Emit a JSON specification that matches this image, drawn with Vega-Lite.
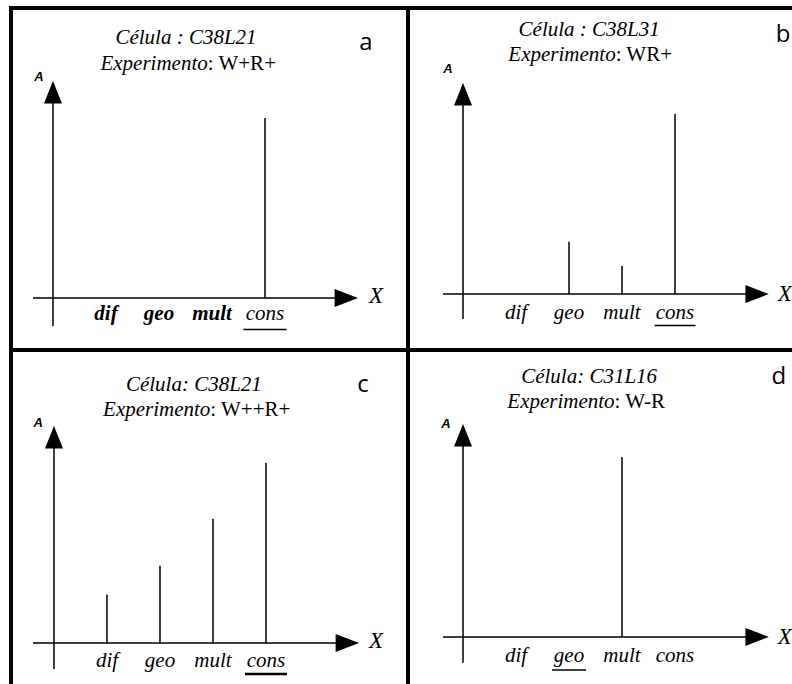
{
 "$schema": "https://vega.github.io/schema/vega-lite/v6.json",
 "background": "white",
 "padding": {"left": 8, "top": 5, "right": 0, "bottom": 0},
 "autosize": {"type": "pad"},
 "bounds": "flush",
 "spacing": 0,
 "columns": 2,
 "config": {"view": {"stroke": null}, "axis": {"disable": true}, "mark": {"color": "black"}, "point": {"opacity": 1}},
 "datasets": {"stems": [
  {"panel": "a", "cat": "dif", "pos": 1, "A": 0, "highlight": false},
  {"panel": "a", "cat": "geo", "pos": 2, "A": 0, "highlight": false},
  {"panel": "a", "cat": "mult", "pos": 3, "A": 0, "highlight": false},
  {"panel": "a", "cat": "cons", "pos": 4, "A": 1.0, "highlight": true},
  {"panel": "b", "cat": "dif", "pos": 1, "A": 0, "highlight": false},
  {"panel": "b", "cat": "geo", "pos": 2, "A": 0.29, "highlight": false},
  {"panel": "b", "cat": "mult", "pos": 3, "A": 0.155, "highlight": false},
  {"panel": "b", "cat": "cons", "pos": 4, "A": 1.0, "highlight": true},
  {"panel": "c", "cat": "dif", "pos": 1, "A": 0.27, "highlight": false},
  {"panel": "c", "cat": "geo", "pos": 2, "A": 0.43, "highlight": false},
  {"panel": "c", "cat": "mult", "pos": 3, "A": 0.69, "highlight": false},
  {"panel": "c", "cat": "cons", "pos": 4, "A": 1.0, "highlight": true},
  {"panel": "d", "cat": "dif", "pos": 1, "A": 0, "highlight": false},
  {"panel": "d", "cat": "geo", "pos": 2, "A": 0, "highlight": true},
  {"panel": "d", "cat": "mult", "pos": 3, "A": 1.0, "highlight": false},
  {"panel": "d", "cat": "cons", "pos": 4, "A": 0, "highlight": false}
 ]},
 "concat": [
  {
   "width": 397, "height": 342,
   "layer": [
    {"data": {"values": [{}]}, "mark": {"type": "rule", "strokeWidth": 4, "strokeCap": "square"}, "encoding": {"x": {"datum": -0.792, "scale": {"domain": [-0.792, 6.698], "nice": false, "zero": false}}}},
    {"data": {"values": [{}]}, "mark": {"type": "rule", "strokeWidth": 4}, "encoding": {"y": {"datum": 1.611, "scale": {"domain": [-0.289, 1.611], "nice": false, "zero": false}}}},
    {"data": {"values": [{}]}, "mark": {"type": "rule", "strokeWidth": 1.5}, "encoding": {"x": {"datum": -0.377, "scale": {"domain": [-0.792, 6.698], "nice": false, "zero": false}}, "x2": {"datum": 5.6}, "y": {"datum": 0, "scale": {"domain": [-0.289, 1.611], "nice": false, "zero": false}}}},
    {"data": {"values": [{}]}, "mark": {"type": "rule", "strokeWidth": 1.5}, "encoding": {"x": {"datum": 0, "scale": {"domain": [-0.792, 6.698], "nice": false, "zero": false}}, "y": {"datum": -0.156, "scale": {"domain": [-0.289, 1.611], "nice": false, "zero": false}}, "y2": {"datum": 1.15}}},
    {"data": {"values": [{}]}, "mark": {"type": "point", "shape": "M0,0L-2.6,-1L-2.6,1Z", "size": 324, "filled": true, "strokeWidth": 0}, "encoding": {"x": {"datum": 5.755, "scale": {"domain": [-0.792, 6.698], "nice": false, "zero": false}}, "y": {"datum": 0, "scale": {"domain": [-0.289, 1.611], "nice": false, "zero": false}}}},
    {"data": {"values": [{}]}, "mark": {"type": "point", "shape": "M0,0L1,2.5L-1,2.5Z", "size": 324, "filled": true, "strokeWidth": 0}, "encoding": {"x": {"datum": 0, "scale": {"domain": [-0.792, 6.698], "nice": false, "zero": false}}, "y": {"datum": 1.206, "scale": {"domain": [-0.289, 1.611], "nice": false, "zero": false}}}},
    {"data": {"values": [{}]}, "mark": {"type": "text", "text": "A", "font": "Liberation Sans", "fontStyle": "italic", "fontWeight": "bold", "fontSize": 13}, "encoding": {"x": {"datum": -0.264, "scale": {"domain": [-0.792, 6.698], "nice": false, "zero": false}}, "y": {"datum": 1.228, "scale": {"domain": [-0.289, 1.611], "nice": false, "zero": false}}}},
    {"data": {"values": [{}]}, "mark": {"type": "text", "text": "X", "font": "Liberation Serif", "fontStyle": "italic", "fontSize": 23}, "encoding": {"x": {"datum": 6.094, "scale": {"domain": [-0.792, 6.698], "nice": false, "zero": false}}, "y": {"datum": 0.011, "scale": {"domain": [-0.289, 1.611], "nice": false, "zero": false}}}},
    {"data": {"name": "stems"}, "transform": [{"filter": "datum.panel === 'a' && datum.A > 0"}], "mark": {"type": "rule", "strokeWidth": 1.5}, "encoding": {"x": {"field": "pos", "type": "quantitative", "scale": {"domain": [-0.792, 6.698], "nice": false, "zero": false}}, "y": {"field": "A", "type": "quantitative", "scale": {"domain": [-0.289, 1.611], "nice": false, "zero": false}}, "y2": {"datum": 0}}},
    {"data": {"name": "stems"}, "transform": [{"filter": "datum.panel === 'a' && !datum.highlight"}], "mark": {"type": "text", "font": "Liberation Serif", "fontStyle": "italic", "fontWeight": "bold", "fontSize": 21}, "encoding": {"x": {"field": "pos", "type": "quantitative", "scale": {"domain": [-0.792, 6.698], "nice": false, "zero": false}}, "y": {"datum": -0.089, "scale": {"domain": [-0.289, 1.611], "nice": false, "zero": false}}, "text": {"field": "cat"}}},
    {"data": {"name": "stems"}, "transform": [{"filter": "datum.panel === 'a' && datum.highlight"}], "mark": {"type": "text", "font": "Liberation Serif", "fontStyle": "italic", "fontSize": 21}, "encoding": {"x": {"field": "pos", "type": "quantitative", "scale": {"domain": [-0.792, 6.698], "nice": false, "zero": false}}, "y": {"datum": -0.089, "scale": {"domain": [-0.289, 1.611], "nice": false, "zero": false}}, "text": {"field": "cat"}}},
    {"data": {"name": "stems"}, "transform": [{"filter": "datum.panel === 'a' && datum.highlight"}], "mark": {"type": "point", "shape": "M-1,0L1,0", "size": 1849, "filled": false, "strokeWidth": 1.5}, "encoding": {"x": {"field": "pos", "type": "quantitative", "scale": {"domain": [-0.792, 6.698], "nice": false, "zero": false}}, "y": {"datum": -0.175, "scale": {"domain": [-0.289, 1.611], "nice": false, "zero": false}}}},
    {"data": {"values": [{}]}, "mark": {"type": "text", "text": "Célula : C38L21", "font": "Liberation Serif", "fontStyle": "italic", "fontSize": 21}, "encoding": {"x": {"datum": 2.51, "scale": {"domain": [-0.792, 6.698], "nice": false, "zero": false}}, "y": {"datum": 1.444, "scale": {"domain": [-0.289, 1.611], "nice": false, "zero": false}}}},
    {"data": {"values": [{}]}, "mark": {"type": "text", "text": "Experimento", "font": "Liberation Serif", "fontStyle": "italic", "fontSize": 21, "align": "right"}, "encoding": {"x": {"datum": 2.92, "scale": {"domain": [-0.792, 6.698], "nice": false, "zero": false}}, "y": {"datum": 1.3, "scale": {"domain": [-0.289, 1.611], "nice": false, "zero": false}}}},
    {"data": {"values": [{}]}, "mark": {"type": "text", "text": ": W+R+", "font": "Liberation Serif", "fontSize": 21, "align": "left"}, "encoding": {"x": {"datum": 2.92, "scale": {"domain": [-0.792, 6.698], "nice": false, "zero": false}}, "y": {"datum": 1.3, "scale": {"domain": [-0.289, 1.611], "nice": false, "zero": false}}}},
    {"data": {"values": [{}]}, "mark": {"type": "text", "text": "a", "font": "Open Sans", "fontSize": 24}, "encoding": {"x": {"datum": 5.906, "scale": {"domain": [-0.792, 6.698], "nice": false, "zero": false}}, "y": {"datum": 1.417, "scale": {"domain": [-0.289, 1.611], "nice": false, "zero": false}}}}
   ]
  },
  {
   "width": 385, "height": 342,
   "layer": [
    {"data": {"values": [{}]}, "mark": {"type": "rule", "strokeWidth": 4, "strokeCap": "square"}, "encoding": {"x": {"datum": -1.038, "scale": {"domain": [-1.038, 6.226], "nice": false, "zero": false}}}},
    {"data": {"values": [{}]}, "mark": {"type": "rule", "strokeWidth": 4}, "encoding": {"y": {"datum": 1.589, "scale": {"domain": [-0.311, 1.589], "nice": false, "zero": false}}}},
    {"data": {"values": [{}]}, "mark": {"type": "rule", "strokeWidth": 1.5}, "encoding": {"x": {"datum": -0.377, "scale": {"domain": [-1.038, 6.226], "nice": false, "zero": false}}, "x2": {"datum": 5.6}, "y": {"datum": 0, "scale": {"domain": [-0.311, 1.589], "nice": false, "zero": false}}}},
    {"data": {"values": [{}]}, "mark": {"type": "rule", "strokeWidth": 1.5}, "encoding": {"x": {"datum": 0, "scale": {"domain": [-1.038, 6.226], "nice": false, "zero": false}}, "y": {"datum": -0.139, "scale": {"domain": [-0.311, 1.589], "nice": false, "zero": false}}, "y2": {"datum": 1.1}}},
    {"data": {"values": [{}]}, "mark": {"type": "point", "shape": "M0,0L-2.6,-1L-2.6,1Z", "size": 324, "filled": true, "strokeWidth": 0}, "encoding": {"x": {"datum": 5.77, "scale": {"domain": [-1.038, 6.226], "nice": false, "zero": false}}, "y": {"datum": 0, "scale": {"domain": [-0.311, 1.589], "nice": false, "zero": false}}}},
    {"data": {"values": [{}]}, "mark": {"type": "point", "shape": "M0,0L1,2.5L-1,2.5Z", "size": 324, "filled": true, "strokeWidth": 0}, "encoding": {"x": {"datum": 0, "scale": {"domain": [-1.038, 6.226], "nice": false, "zero": false}}, "y": {"datum": 1.172, "scale": {"domain": [-0.311, 1.589], "nice": false, "zero": false}}}},
    {"data": {"values": [{}]}, "mark": {"type": "text", "text": "A", "font": "Liberation Sans", "fontStyle": "italic", "fontWeight": "bold", "fontSize": 13}, "encoding": {"x": {"datum": -0.283, "scale": {"domain": [-1.038, 6.226], "nice": false, "zero": false}}, "y": {"datum": 1.25, "scale": {"domain": [-0.311, 1.589], "nice": false, "zero": false}}}},
    {"data": {"values": [{}]}, "mark": {"type": "text", "text": "X", "font": "Liberation Serif", "fontStyle": "italic", "fontSize": 23, "align": "left", "clip": true}, "encoding": {"x": {"datum": 5.94, "scale": {"domain": [-1.038, 6.226], "nice": false, "zero": false}}, "y": {"datum": 0.0, "scale": {"domain": [-0.311, 1.589], "nice": false, "zero": false}}}},
    {"data": {"name": "stems"}, "transform": [{"filter": "datum.panel === 'b' && datum.A > 0"}], "mark": {"type": "rule", "strokeWidth": 1.5}, "encoding": {"x": {"field": "pos", "type": "quantitative", "scale": {"domain": [-1.038, 6.226], "nice": false, "zero": false}}, "y": {"field": "A", "type": "quantitative", "scale": {"domain": [-0.311, 1.589], "nice": false, "zero": false}}, "y2": {"datum": 0}}},
    {"data": {"name": "stems"}, "transform": [{"filter": "datum.panel === 'b'"}], "mark": {"type": "text", "font": "Liberation Serif", "fontStyle": "italic", "fontSize": 21}, "encoding": {"x": {"field": "pos", "type": "quantitative", "scale": {"domain": [-1.038, 6.226], "nice": false, "zero": false}}, "y": {"datum": -0.106, "scale": {"domain": [-0.311, 1.589], "nice": false, "zero": false}}, "text": {"field": "cat"}}},
    {"data": {"name": "stems"}, "transform": [{"filter": "datum.panel === 'b' && datum.highlight"}], "mark": {"type": "point", "shape": "M-1,0L1,0", "size": 1681, "filled": false, "strokeWidth": 1.5}, "encoding": {"x": {"field": "pos", "type": "quantitative", "scale": {"domain": [-1.038, 6.226], "nice": false, "zero": false}}, "y": {"datum": -0.175, "scale": {"domain": [-0.311, 1.589], "nice": false, "zero": false}}}},
    {"data": {"values": [{}]}, "mark": {"type": "text", "text": "Célula : C38L31", "font": "Liberation Serif", "fontStyle": "italic", "fontSize": 21}, "encoding": {"x": {"datum": 2.38, "scale": {"domain": [-1.038, 6.226], "nice": false, "zero": false}}, "y": {"datum": 1.467, "scale": {"domain": [-0.311, 1.589], "nice": false, "zero": false}}}},
    {"data": {"values": [{}]}, "mark": {"type": "text", "text": "Experimento", "font": "Liberation Serif", "fontStyle": "italic", "fontSize": 21, "align": "right"}, "encoding": {"x": {"datum": 2.88, "scale": {"domain": [-1.038, 6.226], "nice": false, "zero": false}}, "y": {"datum": 1.33, "scale": {"domain": [-0.311, 1.589], "nice": false, "zero": false}}}},
    {"data": {"values": [{}]}, "mark": {"type": "text", "text": ": WR+", "font": "Liberation Serif", "fontSize": 21, "align": "left"}, "encoding": {"x": {"datum": 2.88, "scale": {"domain": [-1.038, 6.226], "nice": false, "zero": false}}, "y": {"datum": 1.33, "scale": {"domain": [-0.311, 1.589], "nice": false, "zero": false}}}},
    {"data": {"values": [{}]}, "mark": {"type": "text", "text": "b", "font": "Open Sans", "fontSize": 24}, "encoding": {"x": {"datum": 6.04, "scale": {"domain": [-1.038, 6.226], "nice": false, "zero": false}}, "y": {"datum": 1.439, "scale": {"domain": [-0.311, 1.589], "nice": false, "zero": false}}}}
   ]
  },
  {
   "width": 397, "height": 335,
   "layer": [
    {"data": {"values": [{}]}, "mark": {"type": "rule", "strokeWidth": 4}, "encoding": {"x": {"datum": -0.811, "scale": {"domain": [-0.811, 6.679], "nice": false, "zero": false}}}},
    {"data": {"values": [{}]}, "mark": {"type": "rule", "strokeWidth": 4}, "encoding": {"y": {"datum": 1.628, "scale": {"domain": [-0.233, 1.628], "nice": false, "zero": false}}}},
    {"data": {"values": [{}]}, "mark": {"type": "rule", "strokeWidth": 1.5}, "encoding": {"x": {"datum": -0.396, "scale": {"domain": [-0.811, 6.679], "nice": false, "zero": false}}, "x2": {"datum": 5.6}, "y": {"datum": 0, "scale": {"domain": [-0.233, 1.628], "nice": false, "zero": false}}}},
    {"data": {"values": [{}]}, "mark": {"type": "rule", "strokeWidth": 1.5}, "encoding": {"x": {"datum": 0, "scale": {"domain": [-0.811, 6.679], "nice": false, "zero": false}}, "y": {"datum": -0.144, "scale": {"domain": [-0.233, 1.628], "nice": false, "zero": false}}, "y2": {"datum": 1.15}}},
    {"data": {"values": [{}]}, "mark": {"type": "point", "shape": "M0,0L-2.6,-1L-2.6,1Z", "size": 324, "filled": true, "strokeWidth": 0}, "encoding": {"x": {"datum": 5.755, "scale": {"domain": [-0.811, 6.679], "nice": false, "zero": false}}, "y": {"datum": 0, "scale": {"domain": [-0.233, 1.628], "nice": false, "zero": false}}}},
    {"data": {"values": [{}]}, "mark": {"type": "point", "shape": "M0,0L1,2.5L-1,2.5Z", "size": 324, "filled": true, "strokeWidth": 0}, "encoding": {"x": {"datum": 0, "scale": {"domain": [-0.811, 6.679], "nice": false, "zero": false}}, "y": {"datum": 1.206, "scale": {"domain": [-0.233, 1.628], "nice": false, "zero": false}}}},
    {"data": {"values": [{}]}, "mark": {"type": "text", "text": "A", "font": "Liberation Sans", "fontStyle": "italic", "fontWeight": "bold", "fontSize": 13}, "encoding": {"x": {"datum": -0.3, "scale": {"domain": [-0.811, 6.679], "nice": false, "zero": false}}, "y": {"datum": 1.222, "scale": {"domain": [-0.233, 1.628], "nice": false, "zero": false}}}},
    {"data": {"values": [{}]}, "mark": {"type": "text", "text": "X", "font": "Liberation Serif", "fontStyle": "italic", "fontSize": 23}, "encoding": {"x": {"datum": 6.075, "scale": {"domain": [-0.811, 6.679], "nice": false, "zero": false}}, "y": {"datum": 0.011, "scale": {"domain": [-0.233, 1.628], "nice": false, "zero": false}}}},
    {"data": {"name": "stems"}, "transform": [{"filter": "datum.panel === 'c' && datum.A > 0"}], "mark": {"type": "rule", "strokeWidth": 1.5}, "encoding": {"x": {"field": "pos", "type": "quantitative", "scale": {"domain": [-0.811, 6.679], "nice": false, "zero": false}}, "y": {"field": "A", "type": "quantitative", "scale": {"domain": [-0.233, 1.628], "nice": false, "zero": false}}, "y2": {"datum": 0}}},
    {"data": {"name": "stems"}, "transform": [{"filter": "datum.panel === 'c'"}], "mark": {"type": "text", "font": "Liberation Serif", "fontStyle": "italic", "fontSize": 21}, "encoding": {"x": {"field": "pos", "type": "quantitative", "scale": {"domain": [-0.811, 6.679], "nice": false, "zero": false}}, "y": {"datum": -0.1, "scale": {"domain": [-0.233, 1.628], "nice": false, "zero": false}}, "text": {"field": "cat"}}},
    {"data": {"name": "stems"}, "transform": [{"filter": "datum.panel === 'c' && datum.highlight"}], "mark": {"type": "point", "shape": "M-1,0L1,0", "size": 1764, "filled": false, "strokeWidth": 2.5}, "encoding": {"x": {"field": "pos", "type": "quantitative", "scale": {"domain": [-0.811, 6.679], "nice": false, "zero": false}}, "y": {"datum": -0.172, "scale": {"domain": [-0.233, 1.628], "nice": false, "zero": false}}}},
    {"data": {"values": [{}]}, "mark": {"type": "text", "text": "Célula: C38L21", "font": "Liberation Serif", "fontStyle": "italic", "fontSize": 21}, "encoding": {"x": {"datum": 2.64, "scale": {"domain": [-0.811, 6.679], "nice": false, "zero": false}}, "y": {"datum": 1.433, "scale": {"domain": [-0.233, 1.628], "nice": false, "zero": false}}}},
    {"data": {"values": [{}]}, "mark": {"type": "text", "text": "Experimento", "font": "Liberation Serif", "fontStyle": "italic", "fontSize": 21, "align": "right"}, "encoding": {"x": {"datum": 2.95, "scale": {"domain": [-0.811, 6.679], "nice": false, "zero": false}}, "y": {"datum": 1.294, "scale": {"domain": [-0.233, 1.628], "nice": false, "zero": false}}}},
    {"data": {"values": [{}]}, "mark": {"type": "text", "text": ": W++R+", "font": "Liberation Serif", "fontSize": 21, "align": "left"}, "encoding": {"x": {"datum": 2.95, "scale": {"domain": [-0.811, 6.679], "nice": false, "zero": false}}, "y": {"datum": 1.294, "scale": {"domain": [-0.233, 1.628], "nice": false, "zero": false}}}},
    {"data": {"values": [{}]}, "mark": {"type": "text", "text": "c", "font": "Open Sans", "fontSize": 24}, "encoding": {"x": {"datum": 5.83, "scale": {"domain": [-0.811, 6.679], "nice": false, "zero": false}}, "y": {"datum": 1.433, "scale": {"domain": [-0.233, 1.628], "nice": false, "zero": false}}}}
   ]
  },
  {
   "width": 385, "height": 335,
   "layer": [
    {"data": {"values": [{}]}, "mark": {"type": "rule", "strokeWidth": 4}, "encoding": {"x": {"datum": -1.038, "scale": {"domain": [-1.038, 6.226], "nice": false, "zero": false}}}},
    {"data": {"values": [{}]}, "mark": {"type": "rule", "strokeWidth": 4}, "encoding": {"y": {"datum": 1.594, "scale": {"domain": [-0.267, 1.594], "nice": false, "zero": false}}}},
    {"data": {"values": [{}]}, "mark": {"type": "rule", "strokeWidth": 1.5}, "encoding": {"x": {"datum": -0.377, "scale": {"domain": [-1.038, 6.226], "nice": false, "zero": false}}, "x2": {"datum": 5.6}, "y": {"datum": 0, "scale": {"domain": [-0.267, 1.594], "nice": false, "zero": false}}}},
    {"data": {"values": [{}]}, "mark": {"type": "rule", "strokeWidth": 1.5}, "encoding": {"x": {"datum": 0, "scale": {"domain": [-1.038, 6.226], "nice": false, "zero": false}}, "y": {"datum": -0.144, "scale": {"domain": [-0.267, 1.594], "nice": false, "zero": false}}, "y2": {"datum": 1.1}}},
    {"data": {"values": [{}]}, "mark": {"type": "point", "shape": "M0,0L-2.6,-1L-2.6,1Z", "size": 324, "filled": true, "strokeWidth": 0}, "encoding": {"x": {"datum": 5.77, "scale": {"domain": [-1.038, 6.226], "nice": false, "zero": false}}, "y": {"datum": 0, "scale": {"domain": [-0.267, 1.594], "nice": false, "zero": false}}}},
    {"data": {"values": [{}]}, "mark": {"type": "point", "shape": "M0,0L1,2.5L-1,2.5Z", "size": 324, "filled": true, "strokeWidth": 0}, "encoding": {"x": {"datum": 0, "scale": {"domain": [-1.038, 6.226], "nice": false, "zero": false}}, "y": {"datum": 1.183, "scale": {"domain": [-0.267, 1.594], "nice": false, "zero": false}}}},
    {"data": {"values": [{}]}, "mark": {"type": "text", "text": "A", "font": "Liberation Sans", "fontStyle": "italic", "fontWeight": "bold", "fontSize": 13}, "encoding": {"x": {"datum": -0.32, "scale": {"domain": [-1.038, 6.226], "nice": false, "zero": false}}, "y": {"datum": 1.183, "scale": {"domain": [-0.267, 1.594], "nice": false, "zero": false}}}},
    {"data": {"values": [{}]}, "mark": {"type": "text", "text": "X", "font": "Liberation Serif", "fontStyle": "italic", "fontSize": 23, "align": "left", "clip": true}, "encoding": {"x": {"datum": 5.94, "scale": {"domain": [-1.038, 6.226], "nice": false, "zero": false}}, "y": {"datum": 0.0, "scale": {"domain": [-0.267, 1.594], "nice": false, "zero": false}}}},
    {"data": {"name": "stems"}, "transform": [{"filter": "datum.panel === 'd' && datum.A > 0"}], "mark": {"type": "rule", "strokeWidth": 1.5}, "encoding": {"x": {"field": "pos", "type": "quantitative", "scale": {"domain": [-1.038, 6.226], "nice": false, "zero": false}}, "y": {"field": "A", "type": "quantitative", "scale": {"domain": [-0.267, 1.594], "nice": false, "zero": false}}, "y2": {"datum": 0}}},
    {"data": {"name": "stems"}, "transform": [{"filter": "datum.panel === 'd'"}], "mark": {"type": "text", "font": "Liberation Serif", "fontStyle": "italic", "fontSize": 21}, "encoding": {"x": {"field": "pos", "type": "quantitative", "scale": {"domain": [-1.038, 6.226], "nice": false, "zero": false}}, "y": {"datum": -0.106, "scale": {"domain": [-0.267, 1.594], "nice": false, "zero": false}}, "text": {"field": "cat"}}},
    {"data": {"name": "stems"}, "transform": [{"filter": "datum.panel === 'd' && datum.highlight"}], "mark": {"type": "point", "shape": "M-1,0L1,0", "size": 1156, "filled": false, "strokeWidth": 1.5}, "encoding": {"x": {"field": "pos", "type": "quantitative", "scale": {"domain": [-1.038, 6.226], "nice": false, "zero": false}}, "y": {"datum": -0.183, "scale": {"domain": [-0.267, 1.594], "nice": false, "zero": false}}}},
    {"data": {"values": [{}]}, "mark": {"type": "text", "text": "Célula: C31L16", "font": "Liberation Serif", "fontStyle": "italic", "fontSize": 21}, "encoding": {"x": {"datum": 2.38, "scale": {"domain": [-1.038, 6.226], "nice": false, "zero": false}}, "y": {"datum": 1.444, "scale": {"domain": [-0.267, 1.594], "nice": false, "zero": false}}}},
    {"data": {"values": [{}]}, "mark": {"type": "text", "text": "Experimento", "font": "Liberation Serif", "fontStyle": "italic", "fontSize": 21, "align": "right"}, "encoding": {"x": {"datum": 2.86, "scale": {"domain": [-1.038, 6.226], "nice": false, "zero": false}}, "y": {"datum": 1.306, "scale": {"domain": [-0.267, 1.594], "nice": false, "zero": false}}}},
    {"data": {"values": [{}]}, "mark": {"type": "text", "text": ": W-R", "font": "Liberation Serif", "fontSize": 21, "align": "left"}, "encoding": {"x": {"datum": 2.86, "scale": {"domain": [-1.038, 6.226], "nice": false, "zero": false}}, "y": {"datum": 1.306, "scale": {"domain": [-0.267, 1.594], "nice": false, "zero": false}}}},
    {"data": {"values": [{}]}, "mark": {"type": "text", "text": "d", "font": "Open Sans", "fontSize": 24}, "encoding": {"x": {"datum": 5.96, "scale": {"domain": [-1.038, 6.226], "nice": false, "zero": false}}, "y": {"datum": 1.444, "scale": {"domain": [-0.267, 1.594], "nice": false, "zero": false}}}}
   ]
  }
 ]
}
